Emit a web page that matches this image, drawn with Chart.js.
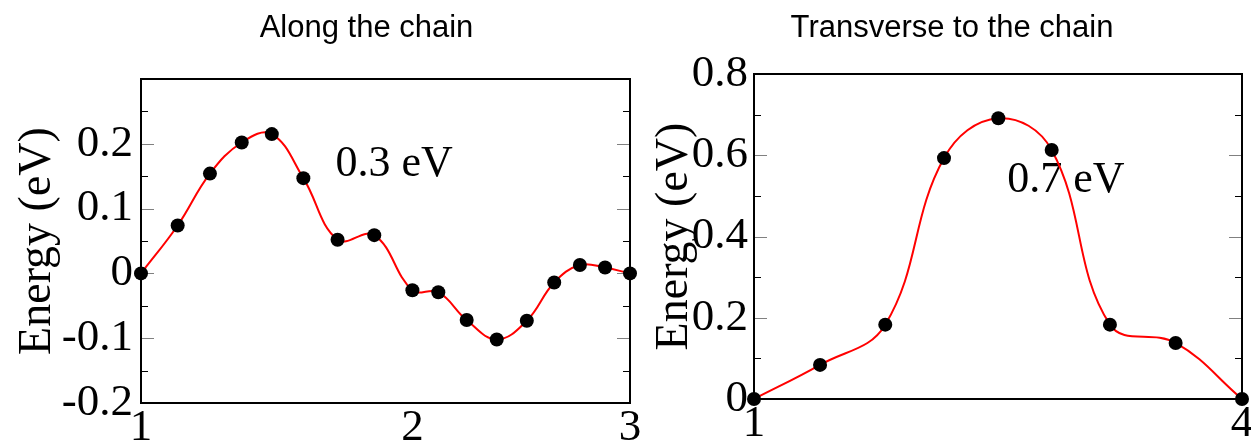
<!DOCTYPE html>
<html><head><meta charset="utf-8">
<script src="https://cdn.jsdelivr.net/npm/chart.js@4.4.1/dist/chart.umd.min.js"></script>
<style>
html,body{margin:0;padding:0;width:1251px;height:442px;overflow:hidden;background:#fff;}
canvas{position:absolute;top:0;}
#c1{left:0;}
#c2{left:644px;}
</style></head><body>
<canvas id="c1" width="733" height="453"></canvas>
<canvas id="c2" width="616" height="449"></canvas>
<script>
// ---- Panel 1: along the chain ----
const alongTitle = 'Along the chain';
const alongX = [1.000, 1.150, 1.282, 1.412, 1.535, 1.664, 1.804, 1.954, 2.110, 2.216, 2.332, 2.455, 2.578, 2.690, 2.795, 2.898, 3.000];
const alongE = [0, 0.074, 0.154, 0.202, 0.215, 0.147, 0.052, 0.059, -0.026, -0.029, -0.072, -0.102, -0.073, -0.014, 0.013, 0.009, 0];
const alongXTicks = [1, 2.11, 3];
const alongXLabels = ['1', '2', '3'];
const alongYTicks = [-0.2, -0.1, 0, 0.1, 0.2];
const alongYLabels = ['-0.2', '-0.1', '0', '0.1', '0.2'];
const alongYMajorInner = [-0.1, 0, 0.1, 0.2];
const alongYMinor = [-0.15, -0.05, 0.05, 0.15, 0.25];
const alongNote = '0.3 eV';

// ---- Panel 2: transverse to the chain ----
const transTitle = 'Transverse to the chain';
const transX = [1.000, 1.406, 1.807, 2.168, 2.502, 2.830, 3.188, 3.592, 4.000];
const transE = [0, 0.084, 0.183, 0.593, 0.691, 0.613, 0.183, 0.138, 0];
const transXTicks = [1, 4];
const transXLabels = ['1', '4'];
const transYTicks = [0, 0.2, 0.4, 0.6, 0.8];
const transYLabels = ['0', '0.2', '0.4', '0.6', '0.8'];
const transYMajorInner = [0.2, 0.4, 0.6];
const transYMinor = [0.1, 0.3, 0.5, 0.7];
const transNote = '0.7 eV';

const yTitle = 'Energy (eV)';
const serif = 'Liberation Serif, Times New Roman, serif';
const sans = 'Liberation Sans, Arial, sans-serif';

const frameTicks = {
  id: 'frameTicks',
  beforeDatasetsDraw(chart, args, opts) {
    const {ctx, chartArea: a, scales} = chart;
    const y = scales.y, x = scales.x;
    ctx.save();
    const draw = (vals, len, color) => {
      ctx.strokeStyle = color; ctx.lineWidth = 1;
      vals.forEach(v => {
        const py = Math.round(y.getPixelForValue(v)) + 0.5;
        ctx.beginPath();
        ctx.moveTo(a.left, py); ctx.lineTo(a.left + len, py);
        ctx.moveTo(a.right, py); ctx.lineTo(a.right - len, py);
        ctx.stroke();
      });
    };
    draw(opts.major, 13, '#808080');
    draw(opts.minor, 7, '#000');
    ctx.lineWidth = 2; ctx.strokeStyle = '#000';
    ctx.strokeRect(a.left, a.top, a.right - a.left, a.bottom - a.top);
    ctx.fillStyle = '#000';
    // panel title
    ctx.font = '31px ' + sans;
    ctx.textAlign = 'center';
    ctx.textBaseline = 'alphabetic';
    ctx.fillText(opts.title, opts.titleCx, 37);
    // annotation text
    ctx.font = '44px ' + serif;
    ctx.fillText(opts.note, x.getPixelForValue(opts.noteX), y.getPixelForValue(opts.noteY));
    ctx.restore();
  }
};

function makeChart(id, cfg) {
  return new Chart(document.getElementById(id), {
    type: 'line',
    data: {
      datasets: [{
        data: cfg.xs.map((v, i) => ({x: v, y: cfg.ys[i]})),
        borderColor: '#ff0000', borderWidth: 2, tension: 0.4,
        pointRadius: 7, pointHoverRadius: 7,
        pointBackgroundColor: '#000', pointBorderColor: '#000', pointBorderWidth: 0,
        fill: false, clip: false
      }]
    },
    options: {
      responsive: false, animation: false, devicePixelRatio: 1,
      layout: {padding: {left: 0, right: cfg.padRight, top: cfg.padTop, bottom: 0}},
      plugins: {
        legend: {display: false}, tooltip: {enabled: false}, title: {display: false},
        frameTicks: {major: cfg.major, minor: cfg.minor, note: cfg.note, noteX: cfg.noteX, noteY: cfg.noteY,
          title: cfg.title, titleCx: cfg.titleCx}
      },
      scales: {
        x: {
          type: 'linear', min: cfg.xMin, max: cfg.xMax,
          grid: {display: false, drawTicks: false}, border: {display: false},
          afterBuildTicks: s => { s.ticks = cfg.xTicks.map(v => ({value: v})); },
          afterFit: s => { s.height = 50; },
          ticks: {padding: -2, color: '#000', font: {family: serif, size: 45},
            maxRotation: 0, autoSkip: false, callback: (v, i) => cfg.xLabels[i]}
        },
        y: {
          type: 'linear', min: cfg.yMin, max: cfg.yMax,
          grid: {display: false, drawTicks: false}, border: {display: false},
          afterBuildTicks: s => { s.ticks = cfg.yTicks.map(v => ({value: v})); },
          afterFit: s => { s.width = cfg.yWidth; },
          ticks: {padding: cfg.yPad, color: '#000', font: {family: serif, size: 45},
            autoSkip: false, callback: (v, i) => cfg.yLabels[i]},
          title: {display: true, text: yTitle, color: '#000',
            font: {family: serif, size: 46}, padding: {top: cfg.yTitlePad, bottom: 0}}
        }
      }
    },
    plugins: [frameTicks]
  });
}

makeChart('c1', {
  xs: alongX, ys: alongE, title: alongTitle, titleCx: 366.5,
  xMin: 1, xMax: 3, yMin: -0.2, yMax: 0.3,
  xTicks: alongXTicks, xLabels: alongXLabels,
  yTicks: alongYTicks, yLabels: alongYLabels,
  major: alongYMajorInner, minor: alongYMinor,
  note: alongNote, noteX: 2.035, noteY: 0.151,
  padRight: 103, padTop: 79, yWidth: 141, yPad: 8, yTitlePad: 10
});
makeChart('c2', {
  xs: transX, ys: transE, title: transTitle, titleCx: 308,
  xMin: 1, xMax: 4, yMin: 0, yMax: 0.8,
  xTicks: transXTicks, xLabels: transXLabels,
  yTicks: transYTicks, yLabels: transYLabels,
  major: transYMajorInner, minor: transYMinor,
  note: transNote, noteX: 2.918, noteY: 0.51,
  padRight: 18, padTop: 74, yWidth: 110, yPad: 6, yTitlePad: 3
});
</script>
</body></html>
